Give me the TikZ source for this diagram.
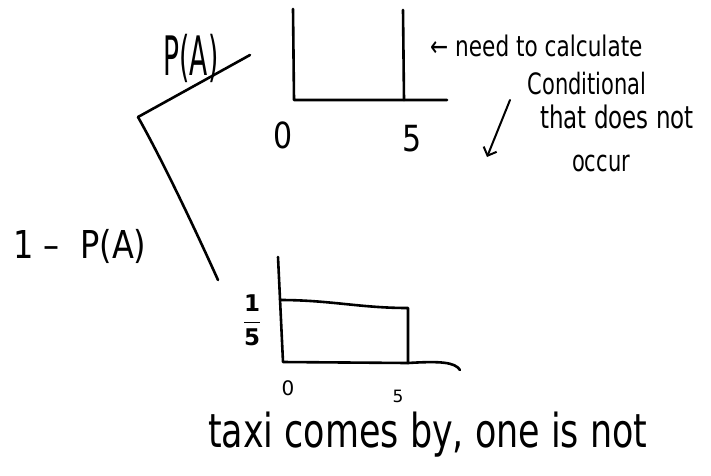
\documentclass[tikz,border=0pt]{standalone}
\usepackage{fontspec}
\setmainfont{DejaVu Sans}
\usetikzlibrary{arrows.meta}
\begin{document}
\begin{tikzpicture}[x=1pt,y=-1pt,
  ink/.style={line width=2.6pt,line cap=round,line join=round,black},
  hand/.style={inner sep=0pt,anchor=center}]
\useasboundingbox (0,0) rectangle (711,475);
% tree
\coordinate (root) at (138,117);
\coordinate (upper) at (250,55);
\coordinate (lower) at (218,280);
\draw[ink] (root) -- (upper);
\draw[ink] (root) .. controls (165,165) and (200,240) .. (lower);
\node[hand,font=\fontsize{34}{34}\selectfont] (pa) at (191,58) {\scalebox{0.78}[1.6]{P(A)}};
\node[hand,font=\fontsize{32}{32}\selectfont] (npa) at (80,246) {\scalebox{1}[1.2]{1 –\ \ P(A)}};
% top graph
\coordinate (t0) at (294,100);
\coordinate (t5) at (404,100);
\coordinate (tend) at (447,100);
\coordinate (t0top) at (293,9);
\coordinate (t5top) at (403,10);
\draw[ink] (t0top) -- (t0) -- (tend);
\draw[ink] (t5top) -- (t5);
\node[hand,font=\fontsize{30}{30}\selectfont] (z1) at (283,135) {\scalebox{1}[1.2]{0}};
\node[hand,font=\fontsize{30}{30}\selectfont] (f1) at (412,139) {\scalebox{1}[1.2]{5}};
% annotation
\node[hand,anchor=west,font=\fontsize{21}{21}\selectfont] (note1) at (430,46) {\scalebox{1.03}[1.35]{← need to calculate}};
\node[hand,font=\fontsize{21}{21}\selectfont] (note2) at (587,84) {\scalebox{1}[1.4]{Conditional}};
\node[hand,font=\fontsize{23}{23}\selectfont] (note3) at (617,117) {\scalebox{1}[1.35]{that does not}};
\node[hand,font=\fontsize{21}{21}\selectfont] (note4) at (601,163) {\scalebox{1}[1.4]{occur}};
\coordinate (arrs) at (510,100);
\coordinate (arre) at (487,157);
\draw[ink,line width=2pt,-{Straight Barb[length=7pt,width=14pt]}] (arrs) -- (arre);
% bottom graph
\coordinate (b0top) at (278,257);
\coordinate (b0) at (283,362);
\coordinate (bh) at (280,300);
\coordinate (bhr) at (408,308);
\coordinate (b5) at (408,363);
\coordinate (bend) at (460,370);
\draw[ink] (b0top) -- (b0) -- (b5) .. controls (440,361) and (455,362) .. (bend);
\draw[ink] (bh) .. controls (330,300) and (360,308) .. (bhr) -- (b5);
\node[hand,font=\fontsize{23}{23}\selectfont] (frac) at (252,320) {$\displaystyle\frac{\mathbf{1}}{\mathbf{5}}$};
\node[hand,font=\fontsize{20}{20}\selectfont] (z2) at (288,388) {0};
\node[hand,font=\fontsize{17}{17}\selectfont] (f2) at (398,396) {5};
\node[hand,anchor=base west,font=\fontsize{36}{36}\selectfont] (taxi) at (208,447) {\scalebox{0.97}[1.3]{taxi comes by, one is not}};
\end{tikzpicture}
\end{document}
